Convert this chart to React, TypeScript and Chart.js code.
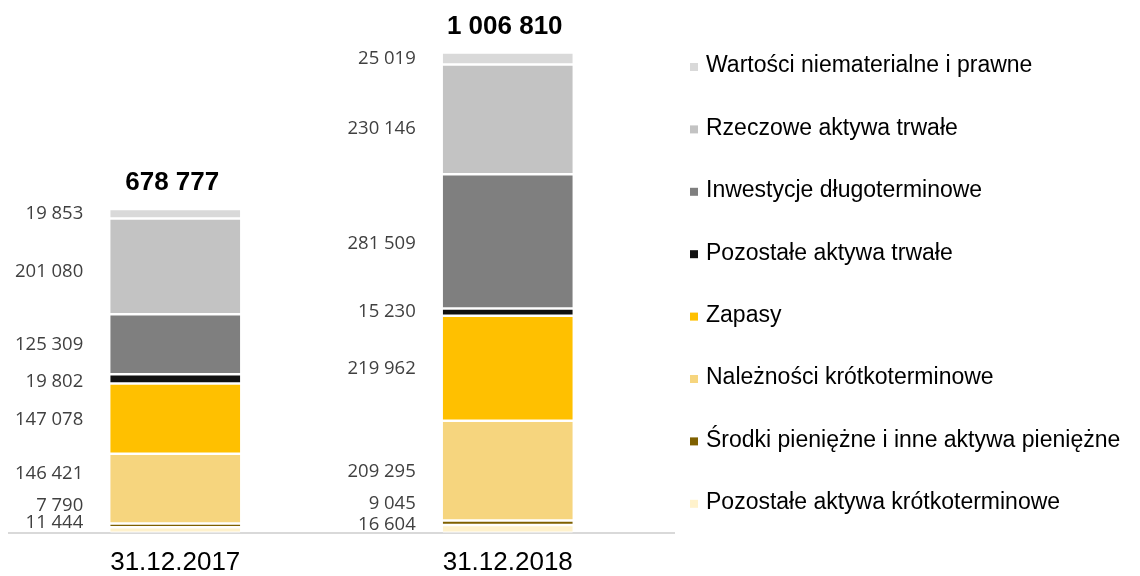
import React, { useEffect, useRef } from "react";
import { Chart, registerables } from "chart.js";

Chart.register(...registerables);

// ---- data ----
const categories = ["31.12.2017", "31.12.2018"];

// series listed bottom -> top of the stack
const seriesNames = [
  "Pozostałe aktywa krótkoterminowe",
  "Środki pieniężne i inne aktywa pieniężne",
  "Należności krótkoterminowe",
  "Zapasy",
  "Pozostałe aktywa trwałe",
  "Inwestycje długoterminowe",
  "Rzeczowe aktywa trwałe",
  "Wartości niematerialne i prawne",
];

const pozostaleKrotko = [11444, 16604];
const srodkiPieniezne = [7790, 9045];
const naleznosci = [146421, 209295];
const zapasy = [147078, 219962];
const pozostaleTrwale = [19802, 15230];
const inwestycje = [125309, 281509];
const rzeczowe = [201080, 230146];
const wartosci = [19853, 25019];

const totals = [678777, 1006810];

const seriesValues = [
  pozostaleKrotko,
  srodkiPieniezne,
  naleznosci,
  zapasy,
  pozostaleTrwale,
  inwestycje,
  rzeczowe,
  wartosci,
];

// ---- styles ----
const seriesColors = [
  "#FFF2CC",
  "#7F6000",
  "#F6D57E",
  "#FFC000",
  "#111111",
  "#7F7F7F",
  "#C3C3C3",
  "#D9D9D9",
];

// manual vertical nudges (px) of value labels, [category][series]
const labelNudge = [
  [-7, -20, -15, 1, 3, 0, 5, 0],
  [-4, -19, 1, 0, 0, 2, 9, 0],
];

const fmt = (v: number) =>
  Math.round(v)
    .toString()
    .replace(/\B(?=(\d{3})+(?!\d))/g, " ");

const labelsPlugin = {
  id: "valueLabels",
  afterDatasetsDraw(chart: any) {
    const ctx = chart.ctx;
    ctx.save();
    // value labels
    ctx.font = '18.5px "Open Sans"';
    ctx.fillStyle = "#404040";
    ctx.textAlign = "right";
    ctx.textBaseline = "middle";
    chart.data.datasets.forEach((ds: any, di: number) => {
      const meta = chart.getDatasetMeta(di);
      meta.data.forEach((el: any, ci: number) => {
        const { x, y, base, width } = el.getProps(["x", "y", "base", "width"], true);
        const cy = (y + base) / 2 + labelNudge[ci][di];
        ctx.fillText(fmt(ds.data[ci]), x - width / 2 - 27, cy);
      });
    });
    // totals
    const topMeta = chart.getDatasetMeta(chart.data.datasets.length - 1);
    ctx.font = 'bold 26px "Liberation Sans", Arial';
    ctx.fillStyle = "#000";
    ctx.textAlign = "center";
    topMeta.data.forEach((el: any, ci: number) => {
      const { x, y } = el.getProps(["x", "y"], true);
      ctx.fillText(fmt(totals[ci]), x - 3, y - 26);
    });
    ctx.restore();
  },
};

const legendPlugin = {
  id: "sideLegend",
  afterDraw(chart: any) {
    const ctx = chart.ctx;
    ctx.save();
    ctx.font = '23px "Liberation Sans", Arial';
    ctx.textAlign = "left";
    ctx.textBaseline = "middle";
    const n = seriesNames.length;
    for (let k = 0; k < n; k++) {
      const si = n - 1 - k;
      const cy = 67 + k * 62.4;
      ctx.fillStyle = seriesColors[si];
      ctx.fillRect(690, cy - 4, 8, 8);
      ctx.fillStyle = "#000";
      ctx.fillText(seriesNames[si], 706, cy - 1);
    }
    ctx.restore();
  },
};

export default function App() {
  const ref = useRef<HTMLCanvasElement | null>(null);

  useEffect(() => {
    if (!ref.current) return;
    const chart = new Chart(ref.current, {
      type: "bar",
      data: {
        labels: categories,
        datasets: seriesNames.map((name, i) => ({
          label: name,
          data: seriesValues[i],
          backgroundColor: seriesColors[i],
          borderColor: "#FFFFFF",
          borderWidth: { top: 1.25, bottom: 1.25, left: 0, right: 0 },
          borderSkipped: false,
          barPercentage: 130 / 332.5,
          categoryPercentage: 1,
          stack: "s",
        })),
      },
      options: {
        responsive: false,
        animation: false,
        devicePixelRatio: 1,
        layout: { padding: { left: 9, right: 466, top: 8, bottom: 0 } },
        plugins: {
          legend: { display: false },
          tooltip: { enabled: false },
        },
        scales: {
          x: {
            stacked: true,
            grid: { display: false, drawTicks: false },
            border: { display: true, color: "#D9D9D9", width: 2 },
            ticks: {
              padding: 14,
              color: "#000",
              font: { family: '"Liberation Sans", Arial', size: 26 },
            },
          },
          y: {
            stacked: true,
            display: false,
            min: 0,
            max: 1100000,
          },
        },
      },
      plugins: [labelsPlugin, legendPlugin],
    });
    return () => chart.destroy();
  }, []);

  return (
    <div
      style={{
        position: "fixed",
        left: 0,
        top: 0,
        width: 1140,
        height: 576,
        overflow: "hidden",
        background: "#fff",
      }}
    >
      <canvas ref={ref} width={1140} height={592} style={{ width: 1140, height: 592, display: "block" }} />
    </div>
  );
}
